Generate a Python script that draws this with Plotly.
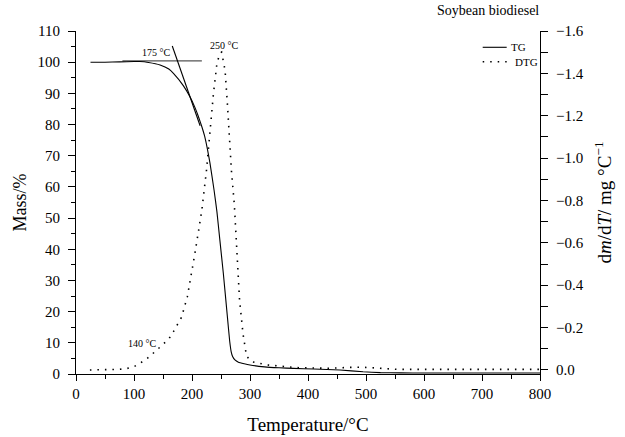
import plotly.graph_objects as go

# ---- data ----
temp_tg = [25, 50, 75, 100, 110, 125, 145, 160, 168, 185, 196.5, 205, 211, 217, 222, 231, 238,
           243, 248, 254, 261, 265, 267.5, 270, 274, 280, 290, 300, 325, 350, 375, 410, 455,
           495, 525, 560, 600, 700, 800]
mass_tg = [100.0, 100.0, 100.1, 100.2, 100.2, 99.9, 99.1, 97.8, 96.4, 92.5, 88.9, 85.5, 82.6,
           79.3, 76.1, 67.6, 59.0, 52.0, 43.0, 32.3, 18.4, 10.5, 7.2, 5.6, 4.5, 3.8, 3.3, 2.9,
           2.3, 2.0, 1.8, 1.6, 1.3, 0.7, 0.45, 0.35, 0.3, 0.3, 0.3]

temp_dtg = [24, 38, 50, 62, 75, 86, 99, 110, 123, 136, 148, 160, 168, 182, 192, 199, 205, 211,
            217, 225, 231, 237, 243, 248, 251, 257, 261, 264, 268, 273, 277, 282, 288, 294, 303,
            329, 380, 438, 470, 495, 553, 650, 800]
dtg = [0.0, 0.0, 0.0, 0.0, -0.003, -0.006, -0.014, -0.031, -0.055, -0.086, -0.117, -0.146,
       -0.181, -0.249, -0.346, -0.448, -0.55, -0.652, -0.755, -0.943, -1.132, -1.305, -1.447,
       -1.494, -1.50, -1.415, -1.258, -1.10, -0.94, -0.78, -0.60, -0.33, -0.17, -0.065, -0.039,
       -0.024, -0.011, -0.008, -0.012, -0.013, -0.003, -0.003, -0.003]

# onset construction lines
onset_base_T = [80, 217]
onset_base_mass = [100.4, 100.4]
onset_tan_T = [166, 214]
onset_tan_mass = [105.2, 79.6]

x_ticks = list(range(0, 801, 100))
left_ticks = list(range(0, 111, 10))
right_ticks = [-1.6, -1.4, -1.2, -1.0, -0.8, -0.6, -0.4, -0.2, 0.0]

FONT = "Liberation Serif"

fig = go.Figure()
fig.add_trace(go.Scatter(x=onset_base_T, y=onset_base_mass, mode="lines",
                         line=dict(color="#555555", width=1.2), showlegend=False,
                         hoverinfo="skip"))
fig.add_trace(go.Scatter(x=onset_tan_T, y=onset_tan_mass, mode="lines",
                         line=dict(color="black", width=1.1), showlegend=False,
                         hoverinfo="skip"))
fig.add_trace(go.Scatter(x=temp_tg, y=mass_tg, mode="lines", name="TG",
                         line=dict(color="black", width=1.1, shape="spline", smoothing=0.4),
                         showlegend=False))
fig.add_trace(go.Scatter(x=temp_dtg, y=dtg, mode="lines", name="DTG", yaxis="y2",
                         line=dict(color="black", width=1.6, dash="1.5px,6px"),
                         showlegend=False))

axis_common = dict(showline=True, linecolor="black", linewidth=1.2, showgrid=False,
                   zeroline=False, tickcolor="black", tickwidth=1.1, automargin=False,
                   tickfont=dict(family=FONT, size=15, color="black"))

fig.update_layout(
    template="none",
    width=625, height=437,
    margin=dict(l=76, r=85, t=31, b=63, autoexpand=False),
    paper_bgcolor="white", plot_bgcolor="white",
    font=dict(family=FONT, color="black"),
    showlegend=False,
    xaxis=dict(**axis_common, range=[0, 800], tickvals=x_ticks, ticks="outside", ticklen=6,
               minor=dict(ticks="outside", ticklen=3.5, dtick=50, tickcolor="black",
                          tickwidth=1.1),
               title=dict(text="Temperature/°C", font=dict(family=FONT, size=19),
                          standoff=16)),
    xaxis2=dict(overlaying="x", side="top", matches="x", range=[0, 800], showline=True,
                linecolor="black", linewidth=1.2, ticks="inside", ticklen=5, dtick=50,
                tick0=0, tickcolor="black", tickwidth=1.1, showticklabels=False,
                showgrid=False, zeroline=False, automargin=False),
    yaxis=dict(**axis_common, range=[0, 110], tickvals=left_ticks, ticks="outside",
               ticklen=7, ticklabelstandoff=5,
               minor=dict(ticks="outside", ticklen=4, dtick=5, tickcolor="black",
                          tickwidth=1.1),
               title=dict(text="Mass/%", font=dict(family=FONT, size=18), standoff=6)),
    yaxis2=dict(**axis_common, overlaying="y", side="right", range=[0.019, -1.6],
                tickvals=right_ticks, tickformat=".1f", ticks="outside", ticklen=7,
                ticklabelstandoff=5,
                minor=dict(ticks="outside", ticklen=7, dtick=0.1, tickcolor="black",
                           tickwidth=1.1),
                title=dict(text="d<i>m</i>/d<i>T</i>/ mg °C<sup>−1</sup>",
                           font=dict(family=FONT, size=19), standoff=14)),
)

ann_font = dict(family=FONT, size=10, color="black")
fig.add_annotation(x=137.9, y=103.0, text="175 °C", showarrow=False, font=ann_font)
fig.add_annotation(x=255.7, y=105.5, text="250 °C", showarrow=False, font=ann_font)
fig.add_annotation(x=113.3, y=9.85, text="140 °C", showarrow=False, font=ann_font)

# title
fig.add_annotation(xref="paper", yref="paper", x=1.002, y=1.06, xanchor="right",
                   yanchor="middle", text="Soybean biodiesel", showarrow=False,
                   font=dict(family=FONT, size=14, color="black"))

# legend (manual, to match compact spacing)
leg_font = dict(family=FONT, size=11, color="black")
fig.add_shape(type="line", xref="paper", yref="paper", x0=0.8765, x1=0.9282,
              y0=0.9525, y1=0.9525, line=dict(color="black", width=1.1))
fig.add_annotation(xref="paper", yref="paper", x=0.9332, y=0.9525, xanchor="left",
                   yanchor="middle", text="TG", showarrow=False, font=leg_font)
fig.add_shape(type="line", xref="paper", yref="paper", x0=0.8765, x1=0.9282,
              y0=0.9105, y1=0.9105, line=dict(color="black", width=1.6, dash="1.5px,6px"))
fig.add_annotation(xref="paper", yref="paper", x=0.9418, y=0.9105, xanchor="left",
                   yanchor="middle", text="DTG", showarrow=False, font=leg_font)

fig.write_html("out.html")
